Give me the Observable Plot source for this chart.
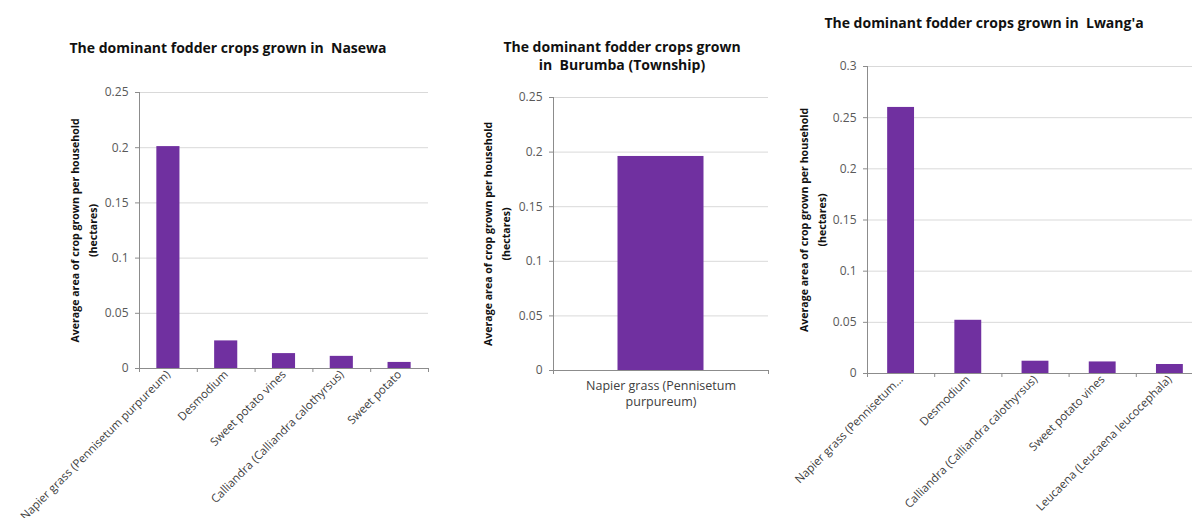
<!DOCTYPE html>
<html><head><meta charset="utf-8">
<script src="https://cdn.jsdelivr.net/npm/d3@7"></script>
<script src="https://cdn.jsdelivr.net/npm/@observablehq/plot@0.6"></script>
<style>
html,body{margin:0;padding:0;background:#fff;overflow:hidden;width:1192px;height:518px;position:relative}
.panel{position:absolute;top:0}
.title{position:absolute;font-family:"Open Sans",sans-serif;font-weight:bold;font-size:14px;line-height:18px;text-align:center;color:#111;white-space:pre;transform:translateX(-50%)}
</style></head><body>
<div id="p1" class="panel" style="left:0px"></div>
<div id="p2" class="panel" style="left:440px"></div>
<div id="p3" class="panel" style="left:780px"></div>
<div class="title" style="left:228px;top:39px">The dominant fodder crops grown in  Nasewa</div>
<div class="title" style="left:622px;top:38px">The dominant fodder crops grown
in  Burumba (Township)</div>
<div class="title" style="left:984px;top:14px">The dominant fodder crops grown in  Lwang'a</div>
<script>
// ---- data ----
const nasewaCrops = ["Napier grass (Pennisetum purpureum)", "Desmodium", "Sweet potato vines", "Calliandra (Calliandra calothyrsus)", "Sweet potato"];
const nasewaArea = [0.201, 0.025, 0.0135, 0.011, 0.0055];
const nasewaTickLabels = ["Napier grass (Pennisetum purpureum)", "Desmodium", "Sweet potato vines", "Calliandra (Calliandra calothyrsus)", "Sweet potato"];

const burumbaCrops = ["Napier grass (Pennisetum purpureum)"];
const burumbaArea = [0.196];
const burumbaTickLabels = ["Napier grass (Pennisetum\npurpureum)"];

const lwangaCrops = ["Napier grass (Pennisetum purpureum)", "Desmodium", "Calliandra (Calliandra calothyrsus)", "Sweet potato vines", "Leucaena (Leucaena leucocephala)"];
const lwangaArea = [0.26, 0.052, 0.012, 0.0113, 0.0088];
const lwangaTickLabels = ["Napier grass (Pennisetum...", "Desmodium", "Calliandra (Calliandra calothyrsus)", "Sweet potato vines", "Leucaena (Leucaena leucocephala)"];

const yTicks25 = [0, 0.05, 0.1, 0.15, 0.2, 0.25];
const yTickLabels25 = ["0", "0.05", "0.1", "0.15", "0.2", "0.25"];
const yTicks30 = [0, 0.05, 0.1, 0.15, 0.2, 0.25, 0.3];
const yTickLabels30 = ["0", "0.05", "0.1", "0.15", "0.2", "0.25", "0.3"];

const yLabel = "Average area of crop grown per household\n(hectares)";

// ---- drawing ----
const H = 518;
const FONT = "'Open Sans', sans-serif";
function panel(cfg) {
  const {el, width, marginLeft, marginRight, marginTop, marginBottom, crops, area, tickLabels,
         yMax, yTicks, yTickLabels, rotate, labelDx, xPad} = cfg;
  const n = crops.length;
  const step = (width - marginLeft - marginRight) / n;
  const data = crops.map((c, i) => ({crop: c, area: area[i]}));
  const xAxisOpts = {
    tickSize: 0, tickPadding: xPad, label: null,
    tickFormat: d => tickLabels[crops.indexOf(d)],
    fill: "#404040", fontFamily: FONT
  };
  if (rotate) { xAxisOpts.tickRotate = rotate; xAxisOpts.fontSize = 11.5; }
  else { xAxisOpts.lineHeight = 1.3; xAxisOpts.fontSize = 12.5; }
  const chart = Plot.plot({
    width, height: H, marginLeft, marginRight, marginTop, marginBottom,
    style: {background: "transparent", maxWidth: "none", overflow: "visible", fontFamily: FONT},
    x: {type: "band", domain: crops, paddingInner: 0.6, paddingOuter: 0.3, round: false, axis: null},
    y: {domain: [0, yMax], axis: null},
    marks: [
      Plot.ruleY(yTicks.filter(d => d > 0), {stroke: "#d9d9d9", strokeWidth: 1}),
      Plot.barY(data, {x: "crop", y: "area", fill: "#7030a0"}),
      Plot.ruleY([0], {stroke: "#8c8c8c"}),
      Plot.ruleX([crops[0]], {dx: -step / 2, y1: 0, y2: yMax, stroke: "#8c8c8c"}),
      Plot.ruleX(crops, {dx: -step / 2, y1: 0, y2: 0, insetBottom: -4, stroke: "#8c8c8c"}),
      Plot.ruleX([crops[n - 1]], {dx: step / 2, y1: 0, y2: 0, insetBottom: -4, stroke: "#8c8c8c"}),
      Plot.axisY({ticks: yTicks, tickFormat: d => yTickLabels[yTicks.indexOf(d)], tickSize: 4, tickPadding: 7,
                  stroke: "#8c8c8c", fill: "#595959", fontSize: 12, fontFamily: FONT, label: null}),
      Plot.axisX(xAxisOpts),
      Plot.text([yLabel], {frameAnchor: "left", dx: labelDx, rotate: -90, text: d => d,
                 fontWeight: "bold", fontSize: 10.6, lineHeight: 1.65, textAnchor: "middle",
                 lineAnchor: "middle", fill: "#111", fontFamily: FONT})
    ]
  });
  document.getElementById(el).appendChild(chart);
}

panel({el: "p1", width: 440, marginLeft: 139, marginRight: 12, marginTop: 92, marginBottom: 150,
       crops: nasewaCrops, area: nasewaArea, tickLabels: nasewaTickLabels,
       yMax: 0.25, yTicks: yTicks25, yTickLabels: yTickLabels25, rotate: -45, labelDx: -57, xPad: 4});
panel({el: "p2", width: 340, marginLeft: 113, marginRight: 12, marginTop: 97, marginBottom: 148,
       crops: burumbaCrops, area: burumbaArea, tickLabels: burumbaTickLabels,
       yMax: 0.25, yTicks: yTicks25, yTickLabels: yTickLabels25, rotate: 0, labelDx: -58, xPad: 8});
panel({el: "p3", width: 430, marginLeft: 87, marginRight: 7, marginTop: 66, marginBottom: 145,
       crops: lwangaCrops, area: lwangaArea, tickLabels: lwangaTickLabels,
       yMax: 0.3, yTicks: yTicks30, yTickLabels: yTickLabels30, rotate: -45, labelDx: -56, xPad: 4});
</script>
</body></html>
